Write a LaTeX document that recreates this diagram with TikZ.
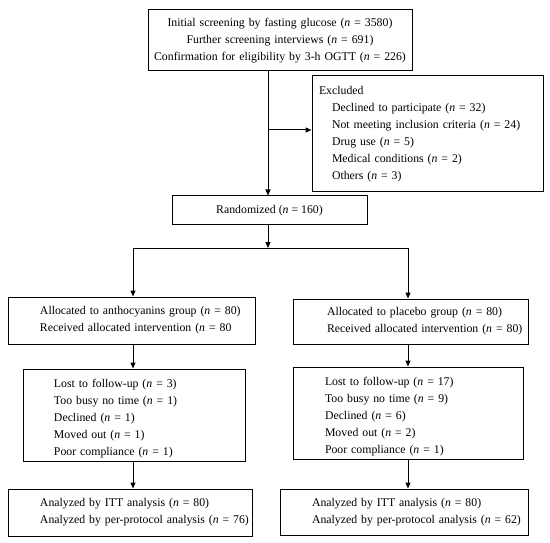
\documentclass[tikz,border=0pt]{standalone}
\usepackage{fontspec}
\setmainfont{Liberation Serif}
\usetikzlibrary{arrows.meta}
\def\mypad{0pt}
\newcommand{\ind}{\hspace*{\mypad}}
\tikzset{
  box/.style={draw=black, line width=1pt, rectangle, inner ysep=0pt, inner xsep=0pt,
    font=\fontsize{11.8pt}{17pt}\selectfont},
  lbox/.style 2 args={box, minimum width=#1, text width=#1, align=left, lpad=#2},
  lpad/.code={\gdef\mypad{#1}},
  arr/.style={line width=1pt, -{Triangle[length=6pt,width=5pt]}},
  ln/.style={line width=1pt}
}
\newcommand{\nn}{\textit{n}}
\begin{document}
\begin{tikzpicture}[x=1pt,y=-1pt]
\useasboundingbox (0,0) rectangle (550,543);
% top box
\node[box, minimum width=264pt, minimum height=61pt, text width=264pt, align=center]
  (screen) at (280,40.5)
  {Initial screening by fasting glucose (\nn{} = 3580)\\
   Further screening interviews (\nn{} = 691)\\
   Confirmation for eligibility by 3-h OGTT (\nn{} = 226)};
% excluded
\node[lbox={231pt}{7pt}, minimum height=116pt]
  (excl) at (427.5,134)
  {\ind Excluded\\
   \ind\hspace*{13pt}Declined to participate (\nn{} = 32)\\
   \ind\hspace*{13pt}Not meeting inclusion criteria (\nn{} = 24)\\
   \ind\hspace*{13pt}Drug use (\nn{} = 5)\\
   \ind\hspace*{13pt}Medical conditions (\nn{} = 2)\\
   \ind\hspace*{13pt}Others (\nn{} = 3)};
% randomized
\node[box, minimum width=195pt, minimum height=29pt, align=center]
  (rand) at (269.5,210.5) {Randomized (\nn{} = 160)};
% allocation
\node[lbox={247pt}{32pt}, minimum height=47pt]
  (allocL) at (131.5,320.5)
  {\ind Allocated to anthocyanins group (\nn{} = 80)\\
   \ind Received allocated intervention (\nn{} = 80};
\node[lbox={235pt}{34pt}, minimum height=45pt]
  (allocR) at (410.5,321.5)
  {\ind Allocated to placebo group (\nn{} = 80)\\
   \ind Received allocated intervention (\nn{} = 80)};
% lost
\node[lbox={222pt}{31pt}, minimum height=92pt]
  (lostL) at (134,415)
  {\rule{0pt}{16pt}\ind Lost to follow-up (\nn{} = 3)\\
   \ind Too busy no time (\nn{} = 1)\\
   \ind Declined (\nn{} = 1)\\
   \ind Moved out (\nn{} = 1)\\
   \ind Poor compliance (\nn{} = 1)};
\node[lbox={230pt}{32pt}, minimum height=92pt]
  (lostR) at (408,413)
  {\rule{0pt}{16pt}\ind Lost to follow-up (\nn{} = 17)\\
   \ind Too busy no time (\nn{} = 9)\\
   \ind Declined (\nn{} = 6)\\
   \ind Moved out (\nn{} = 2)\\
   \ind Poor compliance (\nn{} = 1)};
% analyzed
\node[lbox={244pt}{32pt}, minimum height=47pt]
  (anaL) at (130,512.5)
  {\ind Analyzed by ITT analysis (\nn{} = 80)\\
   \ind Analyzed by per-protocol analysis (\nn{} = 76)};
\node[lbox={248pt}{32pt}, minimum height=46pt]
  (anaR) at (404,512)
  {\ind Analyzed by ITT analysis (\nn{} = 80)\\
   \ind Analyzed by per-protocol analysis (\nn{} = 62)};
% connectors
\coordinate (branch) at (268,130);
\coordinate (split) at (268,248);
\coordinate (L) at (133,248);
\coordinate (R) at (408,248);
\draw[arr] (screen.south -| branch) -- (rand.north -| branch);
\draw[arr] (branch) -- (excl.west |- branch);
\draw[arr] (rand.south -| split) -- (split);
\draw[ln] (L) -- (R);
\draw[arr] (L) -- (allocL.north -| L);
\draw[arr] (R) -- (allocR.north -| R);
\draw[arr] (allocL.south -| L) -- (lostL.north -| L);
\draw[arr] (lostL.south -| L) -- (anaL.north -| L);
\draw[arr] (allocR.south -| R) -- (lostR.north -| R);
\draw[arr] (lostR.south -| R) -- (anaR.north -| R);
\end{tikzpicture}
\end{document}
